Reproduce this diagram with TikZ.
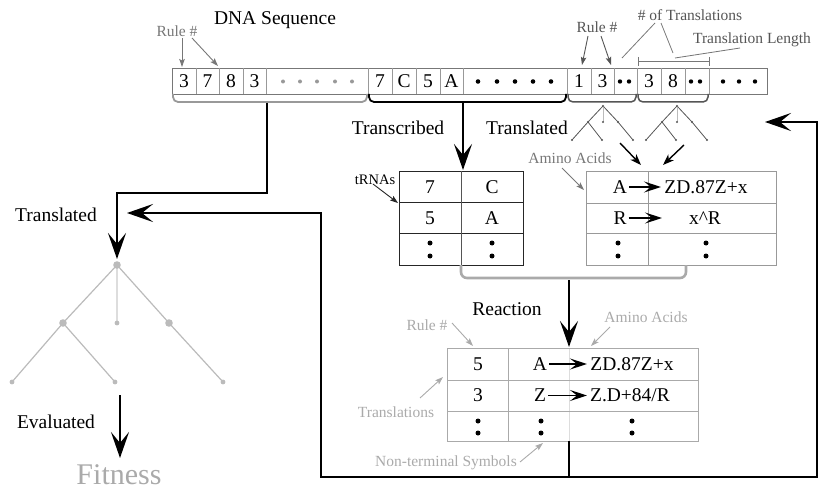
\documentclass[tikz,border=0pt]{standalone}
\usepackage{fontspec}
\setmainfont{Liberation Serif}
\usetikzlibrary{arrows.meta}
\definecolor{gA}{HTML}{999999}
\definecolor{gB}{HTML}{777777}
\definecolor{gC}{HTML}{555555}
\definecolor{gD}{HTML}{AAAAAA}
\definecolor{gT}{HTML}{BBBBBB}
\definecolor{gL}{HTML}{DDDDDD}
\begin{document}
\begin{tikzpicture}[x=1pt,y=-1pt,
  txt/.style={font=\fontsize{19.5}{21}\selectfont, inner sep=0pt},
  smalltxt/.style={font=\fontsize{14.5}{16}\selectfont, inner sep=0pt},
  glbl/.style={font=\fontsize{15.5}{17}\selectfont, inner sep=0pt},
  bigarrow/.style={line width=2.6pt, -{Stealth[length=26pt,width=18pt,inset=11pt]}},
  midarrow/.style={line width=1.4pt, -{Stealth[length=11pt,width=8pt,inset=3pt]}},
  symarrow/.style={line width=1.6pt, -{Stealth[length=17pt,width=11pt,inset=7pt]}},
  thinarrow/.style={line width=0.9pt, -{Stealth[length=8pt,width=5.5pt,inset=1.5pt]}},
  mainline/.style={line width=2.6pt},
]
\useasboundingbox (0,0) rectangle (819,492);

% ---------------- DNA strip ----------------
\draw[gB, line width=0.8pt] (172,68) rectangle (767,94);
\foreach \x in {196,219,243,266,368,392,416,440,463,567,591,614,637,661,685,709}
  \draw[gA, line width=0.7pt] (\x,68) -- (\x,94);
\node[txt] (s1) at (184,81.5) {3};
\node[txt] (s2) at (207.5,81.5) {7};
\node[txt] (s3) at (231,81.5) {8};
\node[txt] (s4) at (254.5,81.5) {3};
\foreach \x in {283,300,317,335,352} \fill[gA] (\x,81.5) circle (2pt);
\node[txt] (s6) at (380,81.5) {7};
\node[txt] (s7) at (404,81.5) {C};
\node[txt] (s8) at (428,81.5) {5};
\node[txt] (s9) at (451.5,81.5) {A};
\foreach \x in {478,497,515,533,551} \fill[black] (\x,81.5) circle (2.3pt);
\node[txt] (s11) at (579,81.5) {1};
\node[txt] (s12) at (602.5,81.5) {3};
\foreach \x in {620,629,691,700} \fill[black] (\x,81.5) circle (2.2pt);
\node[txt] (s14) at (649,81.5) {3};
\node[txt] (s15) at (673,81.5) {8};
\foreach \x in {723,739,755} \fill[black] (\x,81.5) circle (2.2pt);

% braces under the strip
\draw[gA, line width=1.8pt, rounded corners=5pt] (173,94) -- (173,102) -- (367,102) -- (367,94);
\draw[black, line width=1.8pt, rounded corners=5pt] (369,94) -- (369,102) -- (566,102) -- (566,94);
\draw[gC, line width=1.5pt, rounded corners=5pt] (568,94) -- (568,102) -- (636,102) -- (636,94);
\draw[gC, line width=1.5pt, rounded corners=5pt] (638,94) -- (638,102) -- (708,102) -- (708,94);

% labels above the strip
\node[txt] (dna) at (275,20) {DNA Sequence};
\node[glbl, text=gB] (ruleA) at (177,31) {Rule \#};
\coordinate (ruleAt1) at (182,67);
\coordinate (ruleAt2) at (218,66);
\draw[thinarrow, gB] (182,38) -- (ruleAt1);
\draw[thinarrow, gB] (192,38) -- (ruleAt2);

\node[glbl, text=gC] (ruleB) at (597,27) {Rule \#};
\coordinate (ruleBt1) at (582,65);
\coordinate (ruleBt2) at (611,65);
\draw[thinarrow, gC] (588,36) -- (ruleBt1);
\draw[thinarrow, gC] (601,36) -- (ruleBt2);

\node[glbl, text=gC] (ntrans) at (690,15) {\# of Translations};
\coordinate (ntA) at (622,58);
\coordinate (ntB) at (673,53);
\draw[gB, line width=0.8pt] (655,23) -- (ntA);
\draw[gB, line width=0.8pt] (661,23) -- (ntB);

\node[glbl, text=gC] (tlen) at (752,40) {Translation Length};
\coordinate (tlB) at (675,58);
\draw[gB, line width=0.8pt] (740,48) -- (tlB);
\draw[gB, line width=0.8pt] (638,57) -- (638,66);
\draw[gB, line width=0.8pt] (709,57) -- (709,66);
\draw[gB, line width=0.8pt] (638,61.5) -- (709,61.5);

% ---------------- small trees ----------------
\foreach \cx in {603,677} {
  \draw[gC, line width=0.8pt] (\cx,106) -- (\cx-15,122) -- (\cx-31,140);
  \draw[gC, line width=0.8pt] (\cx-15,122) -- (\cx-1,140);
  \draw[gC, line width=0.8pt] (\cx,106) -- (\cx+15,122) -- (\cx+30,140);
  \draw[gT, line width=0.8pt] (\cx,106) -- (\cx,122);
  \foreach \p in {(\cx,106),(\cx-15,122),(\cx+15,122),(\cx,122),(\cx-31,140),(\cx-1,140),(\cx+30,140)}
    \fill[gC] \p circle (1.1pt);
}
\node[txt] (transcribed) at (398,128) {Transcribed};
\node[txt] (translatedA) at (527,128) {Translated};
\coordinate (aaT1) at (641,165);
\coordinate (aaT2) at (663,165);
\draw[midarrow] (620,143) -- (aaT1);
\draw[midarrow] (684,145) -- (aaT2);

% ---------------- tRNA table ----------------
\draw[black!85, line width=0.9pt] (399,171) rectangle (523,265);
\draw[black!85, line width=0.9pt] (399,202) -- (523,202) (399,233) -- (523,233);
\draw[gC, line width=0.9pt] (461,171) -- (461,265);
\node[txt] (t11) at (430,187) {7};
\node[txt] (t12) at (492,187) {C};
\node[txt] (t21) at (430,218) {5};
\node[txt] (t22) at (492,218) {A};
\foreach \x in {430,492} { \fill (\x,243) circle (2.5pt); \fill (\x,256) circle (2.5pt); }
\node[smalltxt] (trnas) at (375,180) {tRNAs};
\coordinate (trnasT) at (398,203);
\draw[thinarrow, black!85] (373,184) -- (trnasT);

% transcribed arrow
\coordinate (brB) at (463,103);
\coordinate (trnaTop) at (463,170);
\draw[bigarrow] (brB) -- (trnaTop);

% ---------------- amino acid table ----------------
\draw[gA, line width=0.9pt] (586,171) rectangle (776,265);
\draw[gA, line width=0.9pt] (586,203) -- (776,203) (586,233) -- (776,233) (648,171) -- (648,265);
\node[txt] (a11) at (620,187) {A};
\node[txt] (a12) at (706,187) {ZD.87Z+x};
\node[txt] (a21) at (620,218) {R};
\node[txt] (a22) at (705,218) {x\^{}R};
\draw[symarrow] (a11.east) ++(2,0) -- (661,187);
\draw[symarrow] (a21.east) ++(2,0) -- (662,218);
\foreach \x in {618,706} { \fill (\x,243) circle (2.5pt); \fill (\x,256) circle (2.5pt); }
\node[glbl, text=gB] (aminoA) at (570,158) {Amino Acids};
\coordinate (aminoAT) at (584,190);
\draw[thinarrow, gB] (562,168) -- (aminoAT);

% bracket under the two tables
\draw[gD, line width=2.6pt, rounded corners=6pt] (461,265) -- (461,278) -- (686,278) -- (686,265);

% ---------------- reaction ----------------
\node[txt] (reaction) at (507,309) {Reaction};
\coordinate (brC) at (569,280);
\coordinate (rtTop) at (569,347);
\draw[bigarrow] (brC) -- (rtTop);

% ---------------- bottom table ----------------
\draw[gL, line width=1pt] (569.5,348) -- (569.5,441);
\draw[gD, line width=0.9pt] (447,348) rectangle (698,441);
\draw[gD, line width=0.9pt] (447,380) -- (698,380) (447,411) -- (698,411) (508,348) -- (508,441);
\node[txt] (b11) at (478,364) {5};
\node[txt] (b12) at (540,364) {A};
\node[txt] (b13) at (632,364) {ZD.87Z+x};
\node[txt] (b21) at (478,395.5) {3};
\node[txt] (b22) at (540,395.5) {Z};
\node[txt] (b23) at (630,395.5) {Z.D+84/R};
\draw[symarrow] (b12.east) ++(2,0) -- (587,364);
\draw[symarrow] (b22.east) ++(2,0) -- (587,395.5);
\foreach \x in {478,541,632} { \fill (\x,421) circle (2.5pt); \fill (\x,433) circle (2.5pt); }

\node[glbl, text=gD] (ruleC) at (427,325) {Rule \#};
\coordinate (ruleCT) at (473,346);
\draw[thinarrow, gD] (452,323) -- (ruleCT);
\node[glbl, text=gD] (aminoB) at (646,317) {Amino Acids};
\coordinate (aminoBT) at (591,346);
\draw[thinarrow, gD] (610,327) -- (aminoBT);
\node[glbl, text=gD] (translations) at (396,412) {Translations};
\coordinate (translT) at (443,377);
\draw[thinarrow, gD] (420,398) -- (translT);
\node[glbl, text=gD] (nonterm) at (446,463) {Non-terminal Symbols};
\coordinate (ntT) at (543,443);
\draw[thinarrow, gD] (520,462) -- (ntT);

% ---------------- feedback loop ----------------
\coordinate (rtBot) at (569,441);
\coordinate (loopJ) at (569,477);
\coordinate (loopL) at (321,477);
\coordinate (loopR) at (817,477);
\coordinate (loopLT) at (321,213);
\coordinate (loopRT) at (817,122);
\coordinate (leftTip) at (127,213);
\coordinate (rightTip) at (765,122);
\draw[mainline] (rtBot) -- (loopJ);
\draw[mainline, line cap=rect] (loopL) -- (loopR);
\draw[bigarrow] (loopL) -- (loopLT) -- (leftTip);
\draw[bigarrow] (loopR) -- (loopRT) -- (rightTip);

% ---------------- DNA to big tree ----------------
\coordinate (brA) at (267,103);
\coordinate (bend1) at (267,193);
\coordinate (bend2) at (117,193);
\coordinate (rootTop) at (117,259);
\draw[bigarrow] (brA) -- (bend1) -- (bend2) -- (rootTop);
\node[txt] (translatedB) at (56,215) {Translated};

% ---------------- big tree ----------------
\coordinate (root) at (117,265);
\coordinate (nL) at (63,323);
\coordinate (nM) at (117,323);
\coordinate (nR) at (169,323);
\coordinate (l1) at (12,382);
\coordinate (l2) at (115,382);
\coordinate (l3) at (223,382);
\draw[gT, line width=1.2pt] (root) -- (nL) -- (l1);
\draw[gT, line width=1.2pt] (nL) -- (l2);
\draw[gT, line width=1.2pt] (root) -- (nR) -- (l3);
\draw[gL, line width=1.2pt] (root) -- (nM);
\fill[gT] (root) circle (3.8pt);
\fill[gT] (nL) circle (3.8pt);
\fill[gT] (nR) circle (3.8pt);
\fill[gT] (nM) circle (2.4pt);
\fill[gT] (l1) circle (2.4pt);
\fill[gT] (l2) circle (2.4pt);
\fill[gT] (l3) circle (2.4pt);

\node[txt] (evaluated) at (56,422) {Evaluated};
\coordinate (evA) at (120,395);
\coordinate (evB) at (120,458);
\draw[bigarrow] (evA) -- (evB);
\node[font=\fontsize{30}{32}\selectfont, text=gD, inner sep=0pt] (fitness) at (119,475) {Fitness};
\end{tikzpicture}
\end{document}
